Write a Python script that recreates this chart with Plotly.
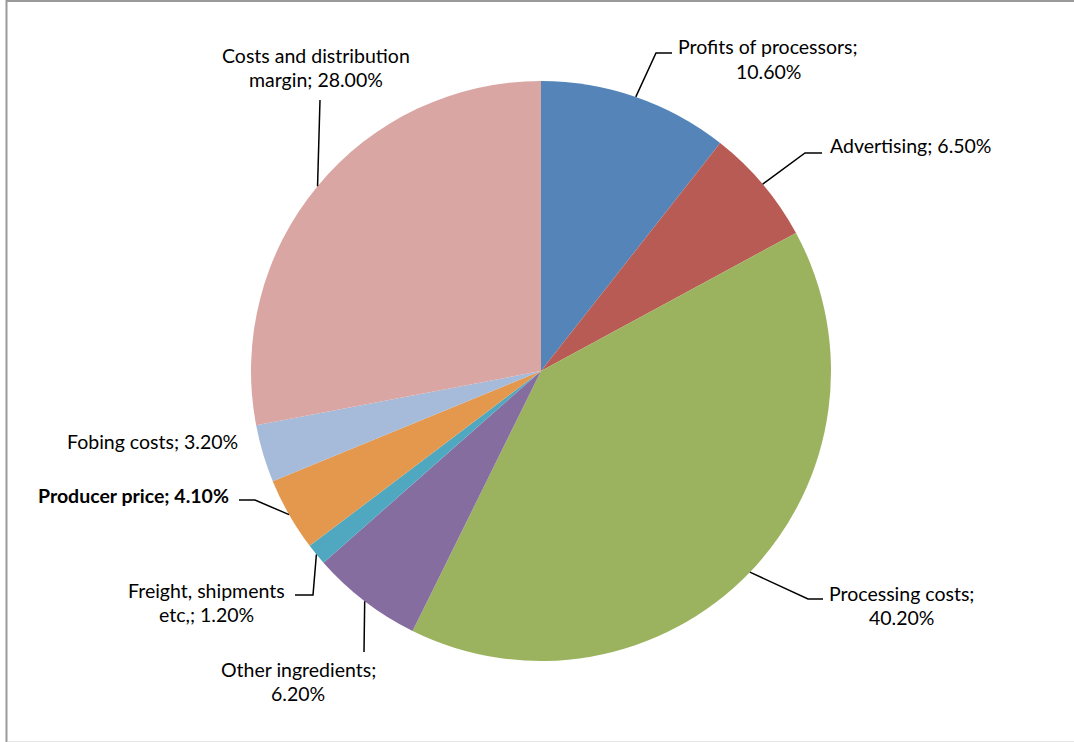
import math
import plotly.graph_objects as go

# ---- data ----
categories = ["Profits of processors", "Advertising", "Processing costs",
              "Other ingredients", "Freight, shipments etc,", "Producer price",
              "Fobing costs", "Costs and distribution margin"]
values = [10.6, 6.5, 40.2, 6.2, 1.2, 4.1, 3.2, 28.0]
label_lines = [
    ["Profits of processors;", "10.60%"],
    ["Advertising; 6.50%"],
    ["Processing costs;", "40.20%"],
    ["Other ingredients;", "6.20%"],
    ["Freight, shipments", "etc,; 1.20%"],
    ["<b>Producer price; 4.10%</b>"],
    ["Fobing costs; 3.20%"],
    ["Costs and distribution", "margin; 28.00%"],
]
colors = ["#5585B8", "#B95B55", "#9BB35F", "#866DA0", "#4FA8C0",
          "#E4984E", "#A6BAD9", "#DAA6A3"]

# ---- layout (pixels) ----
W, H = 1074, 742
CX, CY, R = 541, 371, 290
FONT = "Lato, 'Open Sans', sans-serif"
FONT_SIZE = 19.5
LINE_H = 24
# label placement: (anchor x, first line y, xanchor), leader elbow points
label_pos = [
    (768, 47, "center", [(656, 53), (672, 53)]),
    (828, 145, "left", [(805, 153), (822, 153)]),
    (902, 593, "center", [(808, 599), (823, 599)]),
    (298, 669, "center", [(364, 652)]),
    (206, 590, "center", [(313, 595), (295, 595)]),
    (231, 495, "right", [(255, 500), (239, 500)]),
    (240, 442, "right", []),
    (316, 55, "center", [(320, 100)]),
]


def px(x):
    return x / W


def py(y):
    return 1 - y / H


fig = go.Figure(go.Pie(
    labels=categories, values=values, sort=False, direction="clockwise",
    rotation=0, textinfo="none", hoverinfo="skip", showlegend=False,
    marker=dict(colors=colors, line=dict(width=0)),
    domain=dict(x=[px(CX - R), px(CX + R)], y=[py(CY + R), py(CY - R)]),
))

total = sum(values)
shapes = [
    dict(type="line", xref="paper", yref="paper", x0=px(6.5), x1=px(6.5),
         y0=py(0), y1=py(742), line=dict(color="#9a9a9a", width=2)),
    dict(type="line", xref="paper", yref="paper", x0=px(6), x1=px(1074),
         y0=py(1), y1=py(1), line=dict(color="#9a9a9a", width=2)),
    dict(type="line", xref="paper", yref="paper", x0=px(8), x1=px(1074),
         y0=py(741.5), y1=py(741.5), line=dict(color="#e6e6e6", width=1)),
]
annotations = []
cum = 0
for i, v in enumerate(values):
    mid = (cum + v / 2) / total * 2 * math.pi
    cum += v
    sx = CX + R * math.sin(mid)
    sy = CY - R * math.cos(mid)
    ax, ay, xa, elbows = label_pos[i]
    if elbows:
        pts = [(sx, sy)] + elbows
        path = "M " + " L ".join(f"{px(x)},{py(y)}" for x, y in pts)
        shapes.append(dict(type="path", xref="paper", yref="paper", path=path,
                           line=dict(color="#000000", width=1.5)))
    for k, line in enumerate(label_lines[i]):
        annotations.append(dict(
            x=px(ax), y=py(ay + k * LINE_H), xref="paper", yref="paper",
            text=line, showarrow=False, xanchor=xa, yanchor="middle",
            font=dict(family=FONT, size=FONT_SIZE, color="#000000")))

fig.update_layout(
    width=W, height=H, margin=dict(l=0, r=0, t=0, b=0),
    paper_bgcolor="white", plot_bgcolor="white",
    shapes=shapes, annotations=annotations,
)

fig.write_html("out.html")
